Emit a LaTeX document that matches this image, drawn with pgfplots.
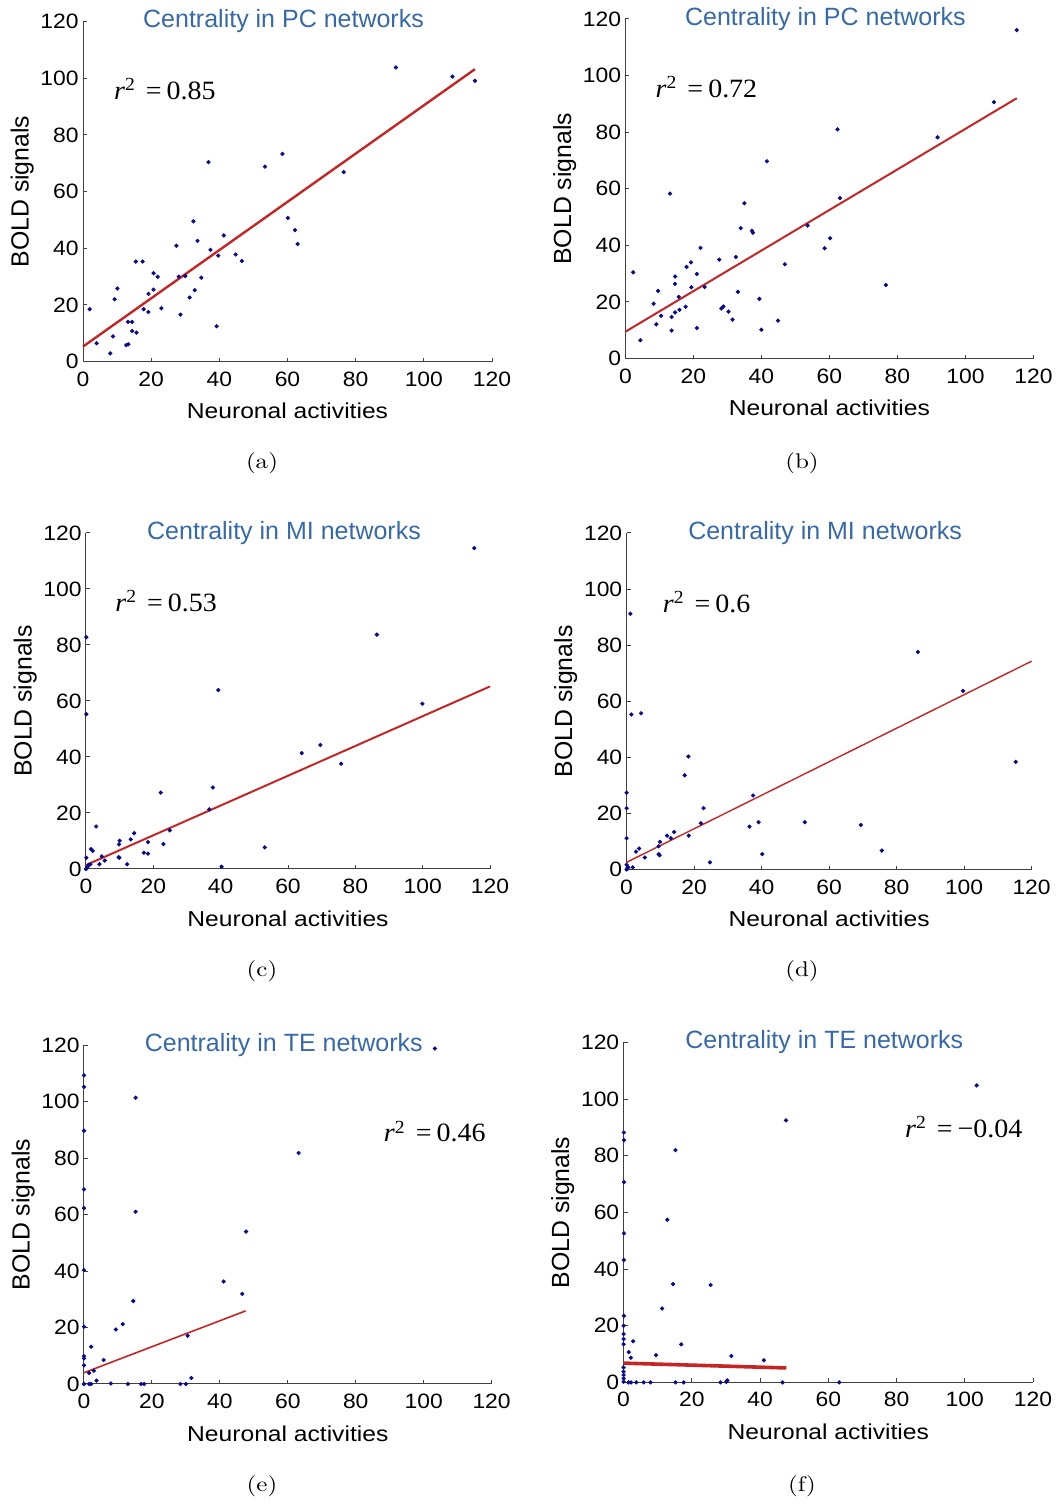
\documentclass[border=0pt]{standalone}
\usepackage{fontspec}
\usepackage{graphicx}
\usepackage{pgfplots}
\pgfplotsset{compat=1.18}
\newfontfamily\ticksf{Liberation Sans}[FakeStretch=1.1]
\newfontfamily\labsf{Liberation Sans}[FakeStretch=1.14]
\newfontfamily\titsf{Liberation Sans}
\newfontfamily\rsf{Liberation Serif}[FakeStretch=1.06]
\definecolor{titleblue}{RGB}{55,105,170}
\definecolor{ptblue}{RGB}{10,10,140}
\definecolor{fitred}{RGB}{196,38,38}
\pgfplotsset{
 panel/.style={
  scale only axis, anchor=south west,
  xmin=0,xmax=120,ymin=0,ymax=120,
  xtick={0,20,...,120}, ytick={0,20,...,120},
  axis x line=bottom, axis y line=left,
  axis line style={-, line width=0.5pt, black!75},
  tick align=inside, major tick length=2pt,
  tick style={black!75, line width=0.5pt},
  /pgf/number format/assume math mode=true,
  tick label style={font=\ticksf\fontsize{10.4}{12}\selectfont},
  yticklabel style={inner sep=2pt},
  xticklabel style={inner sep=0pt, yshift=-4.8pt},
  xlabel={Neuronal activities}, ylabel={BOLD signals},
  xlabel style={at={([yshift=-20.5pt]axis description cs:0.5,0)}, anchor=north, inner sep=0pt, font=\labsf\fontsize{10.8}{13}\selectfont},
  ylabel style={at={([xshift=-27.2pt]axis description cs:0,0.5)}, anchor=base, inner sep=0pt, font=\titsf\fontsize{12.4}{14}\selectfont},
  title style={at={([xshift=-2pt,yshift=-3.2pt]axis description cs:0.5,1)}, anchor=base, yshift=-6pt, inner sep=0pt, font=\titsf\fontsize{12.5}{14}\selectfont, text=titleblue},
  clip=false,
 },
 pts/.style={only marks, mark=*, mark size=0.85pt, ptblue},
 fit/.style={no marks, fitred, line width=#1},
}
\newcommand{\rtext}[1]{{\rsf\fontsize{13.2}{15}\selectfont\textit{r}\textsuperscript{2}\hspace{5pt}=\hspace{2.5pt}#1}}
\newcommand{\capt}[1]{\scalebox{1.18}[1]{\fontsize{10.6}{12}\selectfont(#1)}}
\begin{document}
\begin{tikzpicture}
\path[use as bounding box] (0,0) rectangle (530pt,752pt);
% (a)
\begin{axis}[panel, at={(41.5pt,571.2pt)}, width=204.5pt, height=170pt, title={Centrality in PC networks}]
\addplot[pts] coordinates {(1.96,18.5)(4.0,6.5)(8.0,2.9)(8.8,8.9)(9.3,22.0)(10.1,25.8)(12.7,5.8)(13.3,6.1)(13.2,14.0)(14.4,14.0)(14.4,10.8)(15.7,10.2)(15.5,35.3)(17.5,35.3)(17.8,18.5)(19.2,17.5)(19.2,23.9)(20.7,25.4)(20.7,31.2)(21.9,29.9)(23.0,18.8)(27.4,40.9)(28.1,30.0)(28.6,16.6)(30.0,30.2)(31.3,22.6)(32.4,49.5)(32.8,25.2)(33.6,42.6)(34.7,29.6)(36.8,70.4)(37.4,39.4)(39.2,12.5)(39.7,37.4)(41.3,44.5)(44.8,37.8)(46.6,35.5)(53.4,68.8)(58.5,73.3)(60.1,50.7)(62.2,46.4)(63.0,41.5)(76.5,66.9)(91.8,103.8)(108.4,100.6)(115.0,99.1)};
\addplot[fit=1.2pt] coordinates {(0,5.3)(115,103.2)};
\node[anchor=base west, inner sep=0pt] at (axis cs:9,92.5) {\rtext{0.85}};
\end{axis}
% (b)
\begin{axis}[panel, at={(312.7pt,572.7pt)}, width=204pt, height=169.8pt, title={Centrality in PC networks}]
\addplot[pts] coordinates {(2.3,30.5)(4.4,6.5)(8.3,19.4)(9.1,12.1)(9.6,23.9)(10.5,15.1)(13.1,58.3)(13.6,9.9)(13.6,14.7)(14.6,29.0)(14.6,26.4)(14.6,16.3)(15.9,17.2)(15.7,21.8)(17.7,18.3)(18.0,32.4)(19.3,34.0)(19.4,25.2)(21.0,29.9)(21.0,10.8)(22.1,39.1)(23.3,25.3)(27.6,35.0)(28.2,17.7)(28.8,18.4)(30.3,16.6)(31.5,13.8)(32.5,35.9)(33.1,23.6)(33.9,46.1)(35.0,54.9)(37.2,45.2)(37.5,44.5)(39.4,21.1)(40.0,10.2)(41.6,69.7)(44.9,13.4)(46.9,33.3)(53.6,47.0)(58.6,39.0)(60.2,42.5)(62.4,81.0)(63.1,56.7)(76.6,26.0)(91.8,78.2)(108.4,90.6)(115.1,116.1)};
\addplot[fit=1pt] coordinates {(0,9.5)(115.1,92.0)};
\node[anchor=base west, inner sep=0pt] at (axis cs:8.8,92.3) {\rtext{0.72}};
\end{axis}
% (c)
\begin{axis}[panel, at={(43pt,317.5pt)}, width=202pt, height=168pt, title={Centrality in MI networks}]
\addplot[pts] coordinates {(115.3,114.6)(86.4,83.7)(0.1,82.8)(0.1,55.3)(39.3,63.9)(99.9,59.0)(64.1,41.4)(69.6,44.3)(75.8,37.6)(22.2,27.3)(37.7,29.1)(36.6,21.3)(3.0,15.2)(24.9,13.8)(14.3,12.8)(13.3,10.6)(10.0,10.1)(9.8,8.8)(18.4,9.6)(23.0,8.9)(1.5,7.1)(2.0,6.5)(17.2,5.8)(18.4,5.5)(9.7,4.2)(9.9,4.0)(53.1,7.7)(4.7,4.5)(5.6,3.0)(4.0,1.7)(12.2,1.7)(0.1,4.0)(0.8,1.4)(0.4,0.6)(0,0)(1.3,1.7)(40.3,0.8)};
\addplot[fit=1pt] coordinates {(0,1.4)(120,65.2)};
\node[anchor=base west, inner sep=0pt] at (axis cs:8.6,92) {\rtext{0.53}};
\end{axis}
% (d)
\begin{axis}[panel, at={(313.3pt,317.2pt)}, width=202.5pt, height=168.3pt, title={Centrality in MI networks}]
\addplot[pts] coordinates {(1.1,91.2)(86.3,77.6)(99.7,63.7)(115.3,38.4)(1.4,55.3)(4.3,55.7)(18.3,40.3)(17.2,33.6)(37.5,26.4)(0,27.4)(0,21.9)(22.8,21.9)(22.0,16.5)(39.1,16.9)(52.8,16.9)(36.4,15.3)(69.4,15.9)(0,11.2)(14.1,13.4)(12.0,12.1)(13.1,11.2)(18.4,12.1)(9.9,9.9)(9.5,8.3)(3.7,7.5)(2.8,6.4)(9.5,5.5)(9.8,5.1)(5.4,4.3)(40.2,5.5)(75.6,6.8)(24.7,2.6)(0,1.7)(0.5,0.8)(1.8,0.8)(0,0)(0.2,0.5)};
\addplot[fit=0.7pt] coordinates {(0,2.6)(120,74.3)};
\node[anchor=base west, inner sep=0pt] at (axis cs:10.6,91.8) {\rtext{0.6}};
\end{axis}
% (e)
\begin{axis}[panel, at={(42pt,60pt)}, width=203.8pt, height=169.4pt, title={Centrality in TE networks}]
\addplot[pts] coordinates {(103.3,118.8)(0,109.3)(0,105.2)(15.2,101.4)(0,89.7)(63.2,81.8)(0,68.9)(0,62.3)(15.2,61.0)(47.7,54.0)(0,40.3)(41.1,36.3)(46.6,31.9)(14.5,29.4)(11.4,21.2)(9.4,19.3)(0,20.3)(30.5,17.1)(2.1,13.2)(0,9.9)(0,9.1)(5.8,8.5)(0,6.6)(2.9,4.7)(1.5,3.9)(31.6,2.1)(3.7,1.2)(7.9,0.2)(0,0)(1.5,0)(2.1,0)(12.9,0)(16.8,0)(17.7,0)(28.4,0)(30.0,0)};
\addplot[fit=0.8pt] coordinates {(0,4.0)(47.6,25.9)};
\node[anchor=base west, inner sep=0pt] at (axis cs:88.2,85.8) {\rtext{0.46}};
\end{axis}
% (f)
\begin{axis}[panel, at={(311.8pt,60.8pt)}, width=204.7pt, height=170pt, title={Centrality in TE networks}]
\addplot[pts] coordinates {(103.5,104.8)(47.6,92.5)(0.1,88.2)(0.1,85.5)(15.2,82.0)(0.1,70.7)(12.8,57.4)(0.1,52.6)(0.1,43.2)(14.5,34.7)(25.5,34.4)(11.3,26.1)(0.1,23.5)(0,20.0)(0,17.1)(0,15.3)(0,13.5)(2.8,14.5)(16.9,13.4)(1.5,10.7)(2.1,8.7)(9.5,9.6)(31.6,9.3)(41.1,7.8)(0,5.3)(0,3.8)(0,2.6)(0,1.4)(0,0.2)(1.4,0)(2.2,0)(3.7,0)(5.9,0)(7.9,0)(15.2,0)(17.6,0)(28.4,0)(30.1,0.2)(30.4,0.7)(46.6,0)(63.2,0)};
\addplot[fit=1.8pt] coordinates {(0,6.8)(47.7,5.1)};
\node[anchor=base west, inner sep=0pt] at (axis cs:82.4,86.6) {\rtext{\textminus0.04}};
\end{axis}
% captions
\node[anchor=base] at (131pt,517.5pt) {\capt{a}};
\node[anchor=base] at (401pt,517.5pt) {\capt{b}};
\node[anchor=base] at (131pt,263.5pt) {\capt{c}};
\node[anchor=base] at (401pt,263.5pt) {\capt{d}};
\node[anchor=base] at (131pt,6pt) {\capt{e}};
\node[anchor=base] at (401pt,6pt) {\capt{f}};
\end{tikzpicture}
\end{document}
